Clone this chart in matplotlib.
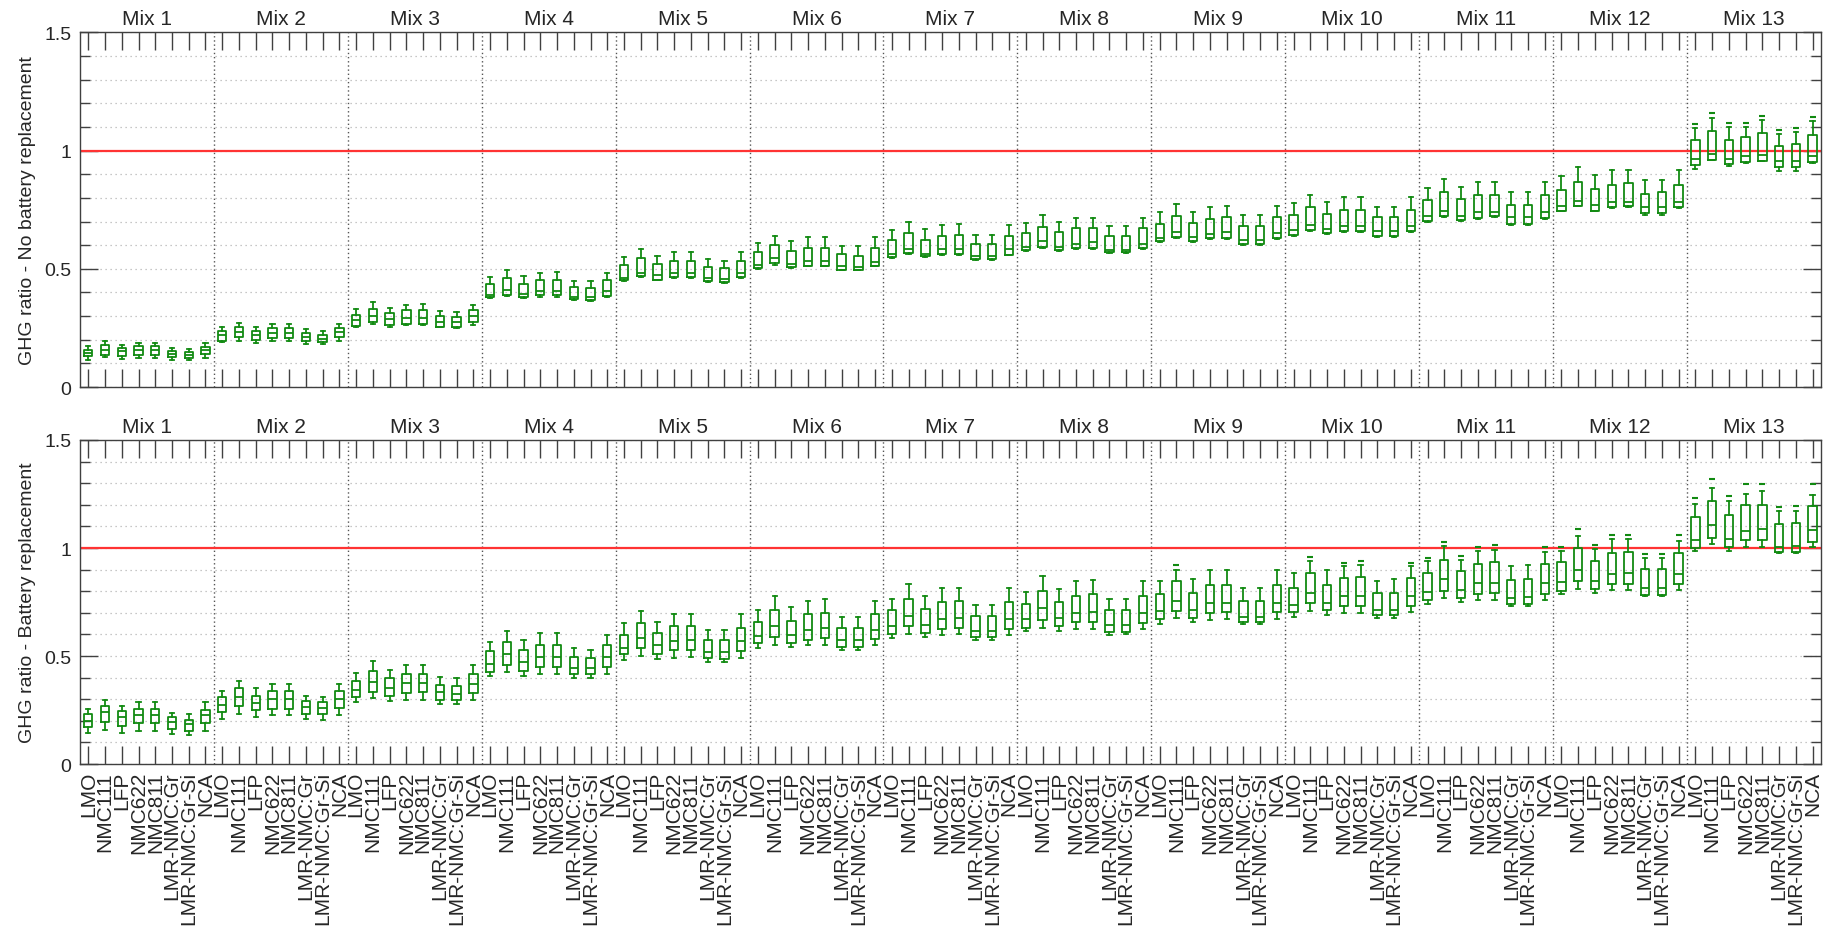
import numpy as np
import matplotlib.pyplot as plt
from matplotlib.ticker import MultipleLocator, FixedLocator

plt.rcParams['font.family'] = ['Liberation Sans', 'DejaVu Sans']

# ── Categories ───────────────────────────────────────────────────────────
MIXES = [f"Mix {i}" for i in range(1, 14)]
CHEMS = ["LMO", "NMC111", "LFP", "NMC622", "NMC811",
         "LMR-NMC:Gr", "LMR-NMC:Gr-Si", "NCA"]

# ── Top panel: GHG ratio, no battery replacement (rows = mixes, cols = chemistries)
NB_HI = [
    [.172, .193, .176, .187, .187, .165, .161, .187],
    [.252, .273, .256, .268, .268, .246, .238, .268],
    [.330, .359, .334, .348, .351, .320, .317, .348],
    [.466, .494, .470, .483, .487, .449, .449, .483],
    [.552, .584, .556, .572, .572, .540, .533, .572],
    [.611, .639, .618, .634, .634, .596, .596, .634],
    [.663, .698, .667, .684, .689, .645, .645, .684],
    [.695, .728, .700, .717, .717, .680, .680, .717],
    [.742, .776, .742, .763, .767, .726, .726, .767],
    [.778, .814, .784, .802, .806, .763, .763, .802],
    [.840, .881, .846, .869, .869, .823, .823, .869],
    [.891, .931, .898, .919, .919, .874, .874, .919],
    [1.096, 1.136, 1.100, 1.100, 1.130, 1.071, 1.078, 1.124],
]
NB_Q3 = [
    [.158, .176, .165, .172, .172, .154, .149, .170],
    [.235, .256, .239, .249, .249, .228, .221, .249],
    [.306, .331, .313, .327, .325, .301, .296, .324],
    [.435, .461, .437, .454, .454, .425, .421, .454],
    [.516, .545, .521, .533, .533, .506, .503, .535],
    [.572, .600, .577, .589, .589, .561, .556, .589],
    [.624, .652, .624, .639, .643, .606, .606, .639],
    [.650, .677, .656, .673, .673, .639, .639, .673],
    [.689, .723, .696, .712, .718, .682, .682, .718],
    [.726, .761, .733, .750, .750, .718, .718, .750],
    [.790, .823, .795, .812, .812, .771, .771, .812],
    [.835, .867, .839, .856, .862, .818, .823, .856],
    [1.044, 1.085, 1.044, 1.056, 1.073, 1.021, 1.028, 1.068],
]
NB_MED = [
    [.144, .158, .151, .156, .156, .139, .134, .156],
    [.221, .232, .221, .228, .227, .211, .204, .232],
    [.285, .299, .289, .292, .292, .277, .275, .299],
    [.390, .411, .393, .407, .407, .383, .383, .408],
    [.463, .482, .472, .482, .482, .461, .458, .482],
    [.517, .545, .521, .535, .535, .510, .507, .531],
    [.561, .586, .561, .584, .584, .554, .554, .584],
    [.593, .618, .592, .607, .614, .579, .579, .607],
    [.632, .656, .634, .646, .654, .623, .623, .651],
    [.664, .686, .668, .682, .682, .661, .661, .682],
    [.722, .743, .725, .739, .739, .718, .718, .739],
    [.764, .785, .771, .782, .782, .760, .760, .782],
    [.965, .987, .966, .976, .980, .955, .955, .976],
]
NB_Q1 = [
    [.130, .137, .132, .137, .137, .128, .123, .139],
    [.193, .210, .197, .207, .207, .196, .189, .210],
    [.259, .277, .263, .268, .268, .256, .254, .275],
    [.379, .390, .379, .390, .390, .373, .369, .386],
    [.453, .468, .454, .464, .466, .447, .443, .465],
    [.503, .524, .506, .514, .514, .496, .496, .514],
    [.550, .565, .553, .561, .561, .540, .540, .560],
    [.578, .593, .578, .589, .589, .570, .570, .589],
    [.617, .635, .617, .630, .630, .606, .606, .630],
    [.644, .664, .651, .658, .658, .641, .641, .658],
    [.701, .723, .706, .715, .722, .689, .689, .715],
    [.746, .767, .746, .760, .764, .736, .736, .760],
    [.941, .962, .944, .951, .958, .931, .931, .952],
]
NB_LO = [
    [.115, .125, .120, .123, .123, .114, .114, .123],
    [.189, .193, .187, .193, .193, .182, .182, .193],
    [.255, .268, .255, .261, .261, .252, .249, .263],
    [.376, .385, .376, .380, .380, .369, .366, .380],
    [.448, .464, .451, .461, .461, .444, .440, .461],
    [.500, .517, .503, .511, .511, .493, .493, .511],
    [.547, .561, .550, .558, .558, .538, .538, .558],
    [.575, .589, .575, .586, .586, .567, .567, .586],
    [.614, .631, .614, .627, .627, .602, .602, .627],
    [.641, .661, .648, .655, .655, .633, .633, .655],
    [.698, .720, .703, .712, .719, .686, .686, .712],
    [.743, .764, .743, .757, .760, .726, .726, .757],
    [.924, .959, .934, .948, .955, .912, .912, .948],
]
NB_OUT = {
    13: [1.114, 1.158, 1.119, 1.119, 1.148, 1.089, 1.096, 1.141],
}

# ── Bottom panel: GHG ratio, battery replacement
BR_HI = [
    [.255, .297, .267, .285, .285, .236, .232, .285],
    [.340, .384, .354, .370, .370, .316, .312, .370],
    [.422, .476, .433, .457, .457, .404, .396, .457],
    [.564, .617, .575, .605, .605, .537, .530, .599],
    [.655, .710, .657, .693, .693, .622, .622, .695],
    [.713, .779, .725, .756, .762, .680, .680, .756],
    [.766, .835, .779, .817, .817, .736, .736, .817],
    [.797, .870, .809, .847, .853, .766, .766, .847],
    [.847, .900, .858, .896, .900, .817, .817, .897],
    [.885, .938, .897, .915, .920, .848, .855, .915],
    [.938, 1.011, .945, .988, .992, .917, .920, .983],
    [.988, 1.056, .995, 1.041, 1.041, .953, .953, 1.033],
    [1.203, 1.276, 1.218, 1.248, 1.264, 1.170, 1.173, 1.245],
]
BR_Q3 = [
    [.232, .270, .244, .255, .255, .216, .206, .252],
    [.312, .351, .317, .340, .340, .290, .285, .340],
    [.384, .431, .396, .415, .418, .366, .363, .415],
    [.521, .567, .526, .549, .553, .495, .491, .549],
    [.599, .652, .607, .637, .640, .576, .572, .632],
    [.657, .713, .663, .693, .698, .632, .629, .693],
    [.713, .766, .718, .748, .756, .683, .683, .748],
    [.740, .800, .748, .779, .785, .713, .713, .779],
    [.786, .847, .792, .827, .829, .756, .756, .829],
    [.817, .885, .829, .859, .867, .791, .794, .859],
    [.885, .945, .892, .927, .933, .852, .855, .927],
    [.935, 1.000, .939, .976, .983, .902, .902, .976],
    [1.144, 1.218, 1.152, 1.200, 1.200, 1.109, 1.117, 1.195],
]
BR_MED = [
    [.201, .241, .216, .229, .229, .195, .183, .229],
    [.274, .312, .282, .302, .302, .262, .259, .302],
    [.343, .381, .354, .373, .373, .332, .323, .370],
    [.465, .508, .473, .495, .495, .445, .445, .495],
    [.537, .584, .549, .568, .573, .518, .518, .568],
    [.591, .640, .596, .622, .628, .572, .572, .622],
    [.640, .687, .645, .670, .675, .614, .614, .670],
    [.670, .721, .675, .701, .705, .645, .645, .701],
    [.709, .756, .713, .744, .745, .682, .682, .745],
    [.738, .794, .745, .776, .776, .715, .715, .776],
    [.798, .855, .806, .836, .836, .768, .773, .836],
    [.841, .897, .848, .879, .885, .817, .817, .879],
    [1.038, 1.105, 1.044, 1.079, 1.086, 1.003, 1.011, 1.082],
]
BR_Q1 = [
    [.171, .195, .175, .188, .188, .163, .155, .188],
    [.241, .267, .248, .256, .256, .232, .232, .259],
    [.308, .335, .317, .328, .332, .297, .297, .328],
    [.424, .457, .430, .450, .450, .416, .415, .450],
    [.508, .535, .511, .527, .527, .492, .485, .523],
    [.558, .588, .561, .576, .584, .541, .541, .579],
    [.604, .640, .607, .626, .632, .588, .588, .626],
    [.632, .667, .637, .658, .658, .610, .613, .655],
    [.670, .710, .675, .698, .703, .658, .658, .703],
    [.705, .745, .711, .730, .730, .689, .689, .730],
    [.761, .802, .768, .788, .794, .742, .742, .788],
    [.803, .847, .809, .833, .833, .783, .783, .833],
    [1.000, 1.048, 1.003, 1.036, 1.036, .980, .980, 1.026],
]
BR_LO = [
    [.145, .157, .145, .152, .152, .140, .133, .152],
    [.210, .232, .218, .226, .226, .210, .206, .226],
    [.285, .305, .293, .297, .297, .277, .279, .297],
    [.407, .427, .407, .419, .419, .396, .396, .419],
    [.483, .500, .488, .492, .497, .473, .473, .492],
    [.535, .553, .541, .549, .553, .527, .527, .549],
    [.584, .602, .588, .596, .602, .572, .572, .596],
    [.614, .632, .614, .626, .626, .599, .602, .626],
    [.649, .678, .657, .667, .670, .647, .647, .670],
    [.682, .708, .688, .700, .700, .677, .677, .703],
    [.742, .768, .748, .761, .761, .730, .730, .761],
    [.788, .811, .791, .806, .806, .780, .780, .806],
    [.988, 1.018, .988, 1.006, 1.006, .977, .977, 1.006],
]
BR_OUT = {
    9:  [None, .922, None, None, None, None, None, None],
    10: [None, .958, None, .932, .939, None, None, .932],
    11: [.953, 1.030, .964, 1.006, 1.012, None, None, 1.006],
    12: [1.006, 1.086, 1.014, 1.061, 1.061, .970, .970, 1.061],
    13: [1.230, 1.321, 1.242, 1.298, 1.298, 1.188, 1.195, 1.294],
}

GREEN = "#118a11"
DARK = "#262626"
FS = 14        # y ticks / y label
FS_CAT = 15    # mix titles and chemistry tick labels
N_MIX, N_CHEM = len(MIXES), len(CHEMS)


def draw_panel(ax, lo, q1, med, q3, hi, out, ylabel, show_xlabels):
    stats = []
    for m in range(N_MIX):
        for c in range(N_CHEM):
            fl = []
            if (m + 1) in out and out[m + 1][c] is not None:
                fl = [out[m + 1][c]]
            stats.append(dict(whislo=lo[m][c], q1=q1[m][c], med=med[m][c],
                              q3=q3[m][c], whishi=hi[m][c], fliers=fl))
    pos = np.arange(1, N_MIX * N_CHEM + 1)

    # grid + separators first so the boxes sit on top
    ax.set_ylim(0, 1.5)
    ax.set_xlim(0.5, N_MIX * N_CHEM + 0.5)
    ax.yaxis.set_major_locator(MultipleLocator(0.5))
    ax.yaxis.set_minor_locator(MultipleLocator(0.1))
    ax.grid(axis="y", which="both", linestyle=(0, (1, 3)), color="#b5b5b5", lw=0.9)
    ax.set_axisbelow(True)
    for k in range(1, N_MIX):
        ax.axvline(k * N_CHEM + 0.5, color="#555555", lw=1.0, linestyle=(0, (1, 2)), zorder=1)
    ax.axhline(1.0, color="#ff3333", lw=1.6, zorder=2)

    ax.bxp(stats, positions=pos, widths=0.5, capwidths=0.25, showfliers=True,
           boxprops=dict(color=GREEN, lw=1.3),
           medianprops=dict(color=GREEN, lw=1.3),
           whiskerprops=dict(color=GREEN, lw=1.3),
           capprops=dict(color=GREEN, lw=1.3),
           flierprops=dict(marker="_", markeredgecolor=GREEN, markersize=5, mew=1.5),
           manage_ticks=False, zorder=3)

    ax.xaxis.set_major_locator(FixedLocator(pos))
    if show_xlabels:
        ax.set_xticklabels(CHEMS * N_MIX, rotation=90, fontsize=FS_CAT, color=DARK)
    else:
        ax.set_xticklabels([])
    ax.tick_params(axis="x", which="major", direction="in", length=13, width=1.0,
                   top=True, bottom=True, color="#404040", pad=5)
    ax.tick_params(axis="y", which="major", direction="in", length=13, width=1.0,
                   left=True, right=True, color="#404040", labelsize=FS,
                   labelcolor=DARK, pad=6)
    ax.tick_params(axis="y", which="minor", direction="in", length=7, width=1.0,
                   left=True, right=True, color="#404040")
    ax.set_yticks([0, 0.5, 1, 1.5])
    ax.set_yticklabels(["0", "0.5", "1", "1.5"])
    for s in ax.spines.values():
        s.set_color("#404040")
        s.set_linewidth(1.0)

    for k, name in enumerate(MIXES):
        ax.annotate(name, xy=(k * N_CHEM + (N_CHEM + 1) / 2, 1.0),
                    xycoords=("data", "axes fraction"),
                    xytext=(0, 3), textcoords="offset points",
                    ha="center", va="bottom", fontsize=FS_CAT, color=DARK)

    ax.set_ylabel(ylabel, fontsize=FS, color=DARK)
    ax.yaxis.set_label_coords(-0.025, 0.5)


fig = plt.figure(figsize=(18.29, 9.29), dpi=100)
ax1 = fig.add_axes([0.0437, 0.5823, 0.9519, 0.3817])
ax2 = fig.add_axes([0.0437, 0.1765, 0.9519, 0.3488])

draw_panel(ax1, NB_LO, NB_Q1, NB_MED, NB_Q3, NB_HI, NB_OUT,
           "GHG ratio - No battery replacement", False)
draw_panel(ax2, BR_LO, BR_Q1, BR_MED, BR_Q3, BR_HI, BR_OUT,
           "GHG ratio - Battery replacement", True)

fig.savefig("out.png", dpi=100, facecolor="white")
